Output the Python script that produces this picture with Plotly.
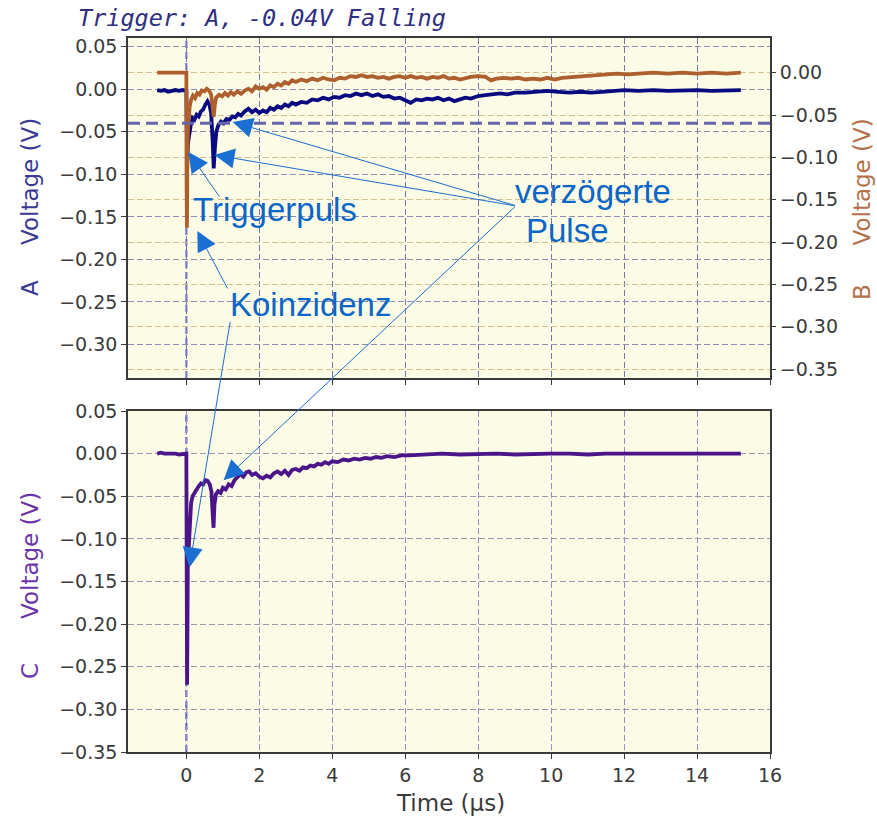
import plotly.graph_objects as go

# ---------------- data ----------------
TITLE = "Trigger: A, -0.04V Falling"
TRIGGER_LEVEL = -0.04
TRIGGER_TIME = 0.0

time_a = [-0.8, -0.7, -0.6, -0.5, -0.4, -0.3, -0.2, -0.1, -0.01,
          0.0, 0.01, 0.03, 0.05, 0.08, 0.12, 0.17, 0.22, 0.28, 0.34, 0.4, 0.46, 0.52, 0.58, 0.63, 0.68,
          0.72, 0.75, 0.78, 0.82, 0.88, 0.95, 1.02, 1.1, 1.18, 1.26, 1.34, 1.42, 1.5, 1.6, 1.7, 1.8,
          1.9, 2.0, 2.1, 2.2, 2.3, 2.4, 2.5, 2.6, 2.7, 2.8, 2.9, 3.0, 3.15, 3.3, 3.45, 3.6, 3.75, 3.9,
          4.05, 4.2, 4.35, 4.5, 4.65, 4.8, 4.95, 5.1, 5.25, 5.4, 5.55, 5.7, 5.85, 6.0, 6.15, 6.3, 6.45,
          6.6, 6.75, 6.9, 7.05, 7.2, 7.35, 7.5, 7.65, 7.8, 8.0, 8.2, 8.4, 8.6, 8.8, 9.0, 9.3, 9.6, 9.9,
          10.2, 10.5, 10.8, 11.1, 11.4, 11.7, 12.0, 12.4, 12.8, 13.2, 13.6, 14.0, 14.4, 14.8, 15.2]
volt_a = [-0.001, -0.002, -0.001, -0.003, -0.002, -0.001, -0.002, -0.001, -0.002,
          -0.002, -0.045, -0.075, -0.062, -0.05, -0.042, -0.034, -0.036, -0.03, -0.032, -0.026, -0.024,
          -0.018, -0.014, -0.018, -0.028, -0.06, -0.093, -0.07, -0.05, -0.042, -0.038, -0.04, -0.035,
          -0.036, -0.032, -0.033, -0.029, -0.031, -0.026, -0.023, -0.027, -0.024, -0.028, -0.025,
          -0.027, -0.022, -0.024, -0.02, -0.022, -0.018, -0.02, -0.016, -0.018, -0.015, -0.016, -0.012,
          -0.013, -0.01, -0.012, -0.009, -0.01, -0.007, -0.008, -0.005, -0.007, -0.005, -0.008, -0.006,
          -0.009, -0.008, -0.011, -0.01, -0.013, -0.016, -0.012, -0.013, -0.011, -0.012, -0.01, -0.013,
          -0.011, -0.014, -0.012, -0.01, -0.011, -0.008, -0.007, -0.006, -0.005, -0.006, -0.004, -0.004,
          -0.003, -0.002, -0.003, -0.004, -0.003, -0.004, -0.003, -0.002, -0.001, -0.002, -0.001, -0.002,
          -0.001, -0.001, -0.002, -0.001, -0.001]

time_b = [-0.8, -0.01, 0.0, 0.005, 0.015, 0.025, 0.04, 0.06, 0.09, 0.13, 0.18, 0.24, 0.3, 0.36, 0.42,
          0.5, 0.56, 0.62, 0.68, 0.72, 0.75, 0.78, 0.82, 0.9, 0.98, 1.06, 1.14, 1.22, 1.3, 1.4, 1.5, 1.6,
          1.7, 1.8, 1.9, 2.0, 2.1, 2.2, 2.3, 2.4, 2.5, 2.6, 2.7, 2.8, 2.9, 3.0, 3.15, 3.3, 3.45, 3.6,
          3.75, 3.9, 4.05, 4.2, 4.35, 4.5, 4.65, 4.8, 4.95, 5.1, 5.25, 5.4, 5.55, 5.7, 5.85, 6.0, 6.15,
          6.3, 6.45, 6.6, 6.75, 6.9, 7.05, 7.2, 7.35, 7.5, 7.65, 7.8, 8.0, 8.2, 8.35, 8.5, 8.7, 8.9, 9.1,
          9.3, 9.5, 9.7, 9.9, 10.1, 10.3, 10.6, 10.9, 11.2, 11.5, 11.8, 12.1, 12.4, 12.8, 13.2, 13.6,
          14.0, 14.4, 14.8, 15.2]
volt_b = [0.0, 0.0, 0.0, -0.12, -0.183, -0.12, -0.07, -0.05, -0.04, -0.032, -0.027, -0.03, -0.024,
          -0.026, -0.021, -0.022, -0.019, -0.021, -0.026, -0.04, -0.052, -0.038, -0.029, -0.026, -0.028,
          -0.024, -0.027, -0.023, -0.026, -0.022, -0.025, -0.021, -0.019, -0.022, -0.016, -0.019, -0.017,
          -0.02, -0.015, -0.017, -0.013, -0.015, -0.011, -0.013, -0.009, -0.011, -0.008, -0.01, -0.007,
          -0.009, -0.006, -0.008, -0.009, -0.006, -0.007, -0.004, -0.005, -0.003, -0.005, -0.004, -0.006,
          -0.005, -0.007, -0.005, -0.004, -0.006, -0.004, -0.006, -0.005, -0.007, -0.005, -0.006, -0.004,
          -0.007, -0.006, -0.008, -0.006, -0.005, -0.004, -0.005, -0.009, -0.007, -0.006, -0.007, -0.006,
          -0.008, -0.007, -0.008, -0.006, -0.008, -0.006, -0.005, -0.004, -0.003, -0.002, -0.001, -0.002,
          -0.001, 0.0, -0.001, 0.0, -0.001, 0.0, -0.001, 0.0]

time_c = [-0.8, -0.7, -0.6, -0.5, -0.4, -0.3, -0.2, -0.1, -0.01,
          0.0, 0.01, 0.02, 0.03, 0.04, 0.06, 0.08, 0.1, 0.13, 0.17, 0.22, 0.28, 0.34, 0.4, 0.46, 0.52,
          0.58, 0.64, 0.69, 0.72, 0.745, 0.77, 0.81, 0.87, 0.94, 1.0, 1.08, 1.16, 1.24, 1.32, 1.4, 1.48,
          1.56, 1.64, 1.72, 1.8, 1.9, 2.0, 2.1, 2.2, 2.3, 2.4, 2.5, 2.6, 2.7, 2.8, 2.9, 3.0, 3.1, 3.2,
          3.3, 3.4, 3.5, 3.6, 3.7, 3.8, 3.9, 4.0, 4.15, 4.3, 4.45, 4.6, 4.75, 4.9, 5.05, 5.2, 5.35, 5.5,
          5.7, 5.9, 6.1, 6.4, 6.7, 7.0, 7.5, 8.0, 8.5, 9.0, 9.5, 10.0, 10.5, 11.0, 11.5, 12.0, 12.5,
          13.0, 13.5, 14.0, 14.5, 15.2]
volt_c = [0.0, 0.001, 0.0, 0.0, 0.001, 0.0, -0.001, 0.0, 0.0,
          0.0, -0.15, -0.271, -0.2, -0.13, -0.11, -0.09, -0.07, -0.058, -0.05, -0.046, -0.041, -0.038,
          -0.035, -0.036, -0.031, -0.032, -0.036, -0.045, -0.07, -0.087, -0.06, -0.048, -0.044, -0.046,
          -0.04, -0.042, -0.036, -0.038, -0.031, -0.027, -0.024, -0.027, -0.022, -0.021, -0.025, -0.023,
          -0.027, -0.029, -0.026, -0.028, -0.023, -0.021, -0.024, -0.02, -0.025, -0.019, -0.018, -0.02,
          -0.016, -0.017, -0.014, -0.015, -0.012, -0.013, -0.01, -0.012, -0.009, -0.01, -0.007, -0.008,
          -0.006, -0.007, -0.005, -0.006, -0.004, -0.005, -0.003, -0.004, -0.002, -0.002, -0.001, -0.001,
          0.0, -0.001, 0.0, 0.0, -0.001, 0.0, 0.0, 0.0, -0.001, 0.0, 0.0, 0.0, 0.0, -0.001, 0.0, 0.0, 0.0]

X_TICKS = [0, 2, 4, 6, 8, 10, 12, 14, 16]
A_TICKS = [0.05, 0.0, -0.05, -0.10, -0.15, -0.20, -0.25, -0.30]
B_TICKS = [0.0, -0.05, -0.10, -0.15, -0.20, -0.25, -0.30, -0.35]
C_TICKS = [0.05, 0.0, -0.05, -0.10, -0.15, -0.20, -0.25, -0.30, -0.35]

# ---------------- layout geometry ----------------
W, H = 877, 817
ML, MR, MT, MB = 128, 107, 38, 65
PW, PH = W - ML - MR, H - MT - MB


def px(x):
    return (x - ML) / PW


def py(y):
    return (H - MB - y) / PH


X_RANGE = [-1.6, 16.0]
A_RANGE = [-0.3394, 0.0602]
B_RANGE = [-0.3606, 0.041]
C_RANGE = [-0.35, 0.05]

COL_A = "#0a0a80"
COL_B = "#ad5f2e"
COL_C = "#4b1589"
TICK_FONT = dict(family="DejaVu Sans", size=19, color="#3a3a3a")
GRID_DASH = "6px,3px"
GW = 1.4
FRAME = "#3a3a3a"
LW = 3.8

fig = go.Figure()
fig.add_trace(go.Scatter(x=time_a, y=volt_a, mode="lines", line=dict(color=COL_A, width=LW),
                         xaxis="x", yaxis="y", showlegend=False))
fig.add_trace(go.Scatter(x=time_b, y=volt_b, mode="lines", line=dict(color=COL_B, width=LW),
                         xaxis="x", yaxis="y2", showlegend=False))
fig.add_trace(go.Scatter(x=time_c, y=volt_c, mode="lines", line=dict(color=COL_C, width=LW),
                         xaxis="x2", yaxis="y3", showlegend=False))

common_x = dict(range=X_RANGE, tickvals=X_TICKS, ticks="outside", ticklen=5, tickcolor=FRAME,
                showline=True, linecolor=FRAME, linewidth=1.5, mirror=True, zeroline=False,
                showgrid=True, griddash=GRID_DASH, gridwidth=GW, tickfont=TICK_FONT)

fig.update_layout(
    width=W, height=H, margin=dict(l=ML, r=MR, t=MT, b=MB),
    paper_bgcolor="white", plot_bgcolor="#fcfbe6",
    xaxis=dict(common_x, domain=[0, 1], anchor="y", showticklabels=False, gridcolor="#7676ac"),
    xaxis2=dict(common_x, domain=[0, 1], anchor="y3", matches="x", showticklabels=True,
                gridcolor="#9f86c6"),
    yaxis=dict(domain=[py(378), 1.0], range=A_RANGE, tickvals=A_TICKS, tickformat=".2f",
               ticks="outside", ticklen=5, tickcolor=FRAME, showline=True, linecolor=FRAME,
               linewidth=1.5, mirror=True, zeroline=False, showgrid=True, gridcolor="#8e8eb2",
               griddash=GRID_DASH, gridwidth=GW, tickfont=TICK_FONT, anchor="x"),
    yaxis2=dict(range=B_RANGE, tickvals=B_TICKS, tickformat=".2f", overlaying="y", side="right",
                anchor="x", ticks="outside", ticklen=5, tickcolor=FRAME, showline=False,
                zeroline=False, showgrid=True, gridcolor="#d3c090", griddash=GRID_DASH,
                gridwidth=GW, tickfont=TICK_FONT),
    yaxis3=dict(domain=[0.0, py(411)], range=C_RANGE, tickvals=C_TICKS, tickformat=".2f",
                ticks="outside", ticklen=5, tickcolor=FRAME, showline=True, linecolor=FRAME,
                linewidth=1.5, mirror=True, zeroline=False, showgrid=True, gridcolor="#9e96ac",
                griddash=GRID_DASH, gridwidth=GW, tickfont=TICK_FONT, anchor="x2"),
    title=dict(text=TITLE, xref="container", yref="container", x=78 / W, xanchor="left",
               y=1 - 17.5 / H, yanchor="middle",
               font=dict(family="DejaVu Sans Mono", size=23.5, color="#2e2e82", style="italic")),
)

# trigger reference lines
fig.add_shape(type="line", xref="x", yref="y domain", x0=TRIGGER_TIME, x1=TRIGGER_TIME, y0=0, y1=1,
              line=dict(color="#7a7ad8", width=2.2, dash="7px,4px"), layer="below")
fig.add_shape(type="line", xref="x2", yref="y3 domain", x0=TRIGGER_TIME, x1=TRIGGER_TIME, y0=0, y1=1,
              line=dict(color="#6464cc", width=2.2, dash="7px,4px"), layer="below")
fig.add_shape(type="line", xref="x domain", yref="y", x0=0, x1=1, y0=TRIGGER_LEVEL, y1=TRIGGER_LEVEL,
              line=dict(color="#6464aa", width=3, dash="12px,6px"), layer="above")

# axis labels
LBL = 23


def vlabel(text, x, y, color):
    fig.add_annotation(text=text, xref="paper", yref="paper", x=px(x), y=py(y), showarrow=False,
                       textangle=-90, xanchor="center", yanchor="middle",
                       font=dict(family="DejaVu Sans", size=LBL, color=color))


vlabel("Voltage (V)", 30, 182, "#3a3a94")
vlabel("A", 30, 288, "#3a3a94")
vlabel("Voltage (V)", 862, 182.5, "#b4704a")
vlabel("B", 862, 292, "#b4704a")
vlabel("Voltage (V)", 30, 556, "#6b35a8")
vlabel("C", 30, 671, "#6b35a8")
fig.add_annotation(text="Time (µs)", xref="paper", yref="paper", x=px(450.5), y=py(803),
                   showarrow=False, xanchor="center", yanchor="middle",
                   font=dict(family="DejaVu Sans", size=LBL, color="#3a3a3a"))

# callouts
BLUE = "#0b66c6"
TXT = dict(family="Liberation Sans", size=33, color=BLUE)


def label(text, x, y):
    fig.add_annotation(text=text, xref="paper", yref="paper", x=px(x), y=py(y), showarrow=False,
                       xanchor="left", yanchor="middle", font=TXT)


label("Triggerpuls", 191, 209.5)
label("Koinzidenz", 228, 304.5)
label("verzögerte", 513, 191.5)
label("Pulse", 524, 230)


def arrow(x, y, ax, ay, xref, yref):
    fig.add_annotation(text="", x=x, y=y, xref=xref, yref=yref, ax=ax, ay=ay, showarrow=True,
                       arrowhead=2, arrowsize=4, arrowwidth=1, arrowcolor="#1a6fd0", standoff=0)


arrow(0.055, -0.0738, 32, 46, "x", "y")      # Triggerpuls
arrow(0.30, -0.1666, 31, 59, "x", "y")       # Koinzidenz (B)
arrow(0.083, -0.1335, 41, -247, "x2", "y3")  # Koinzidenz (C)
arrow(1.27, -0.0385, 284, 84, "x", "y")      # verzögerte Pulse
arrow(0.77, -0.0773, 302, 51, "x", "y")
arrow(1.02, -0.0312, 293, -275, "x2", "y3")

fig.write_html("out.html")
